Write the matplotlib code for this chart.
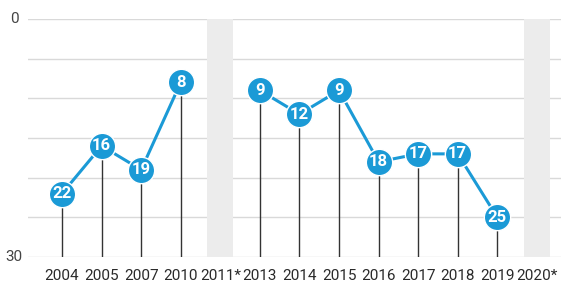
import numpy as np
import matplotlib.pyplot as plt

# Ranking by year (None = no ranking that year)
years = ['2004', '2005', '2007', '2010', '2011*', '2013', '2014',
         '2015', '2016', '2017', '2018', '2019', '2020*']
ranks = [22, 16, 19, 8, None, 9, 12, 9, 18, 17, 17, 25, None]

blue = '#1b9ad6'
x = np.arange(len(years))
y = np.array([np.nan if r is None else r for r in ranks], dtype=float)

plt.rcParams['font.family'] = ['Roboto', 'DejaVu Sans']

fig = plt.figure(figsize=(5.61, 2.91), dpi=100)
ax = fig.add_axes([28 / 561, 34 / 291, 533 / 561, 238 / 291])

ax.set_xlim(-0.86, 12.61)
ax.set_ylim(30, 0)

# grid lines
for g in range(0, 31, 5):
    ax.axhline(g, color='#d9d9d9', lw=1, zorder=1)

# grey bands for years without a ranking
for i, r in enumerate(ranks):
    if r is None:
        ax.axvspan(i - 0.33, i + 0.33, color='#ececec', lw=0, zorder=2)

# stems
for xi, yi in zip(x, y):
    if not np.isnan(yi):
        ax.plot([xi, xi], [yi, 30], color='#333333', lw=1, zorder=3)

# connecting line, broken at gaps
ax.plot(x, y, color=blue, lw=2.2, zorder=4)
ax.scatter(x, y, s=360, color=blue, edgecolor='white', linewidth=1,
           zorder=5)
for xi, r in zip(x, ranks):
    if r is not None:
        ax.text(xi, r, str(r), ha='center', va='center', color='white',
                fontsize=12, fontweight='bold', zorder=6)

ax.set_xticks(x)
ax.set_xticklabels(years, fontsize=11, color='#2a2a2a')
ax.tick_params(axis='x', length=0, pad=9)
ax.set_yticks([])
for s in ax.spines.values():
    s.set_visible(False)

ax.text(-0.86 - 14 / 39.6, 0, '0', ha='center', va='center',
        fontsize=11, color='#444444')
ax.text(-0.86 - 14 / 39.6, 30, '30', ha='center', va='center',
        fontsize=11, color='#444444')

plt.savefig('out.png', dpi=100)
